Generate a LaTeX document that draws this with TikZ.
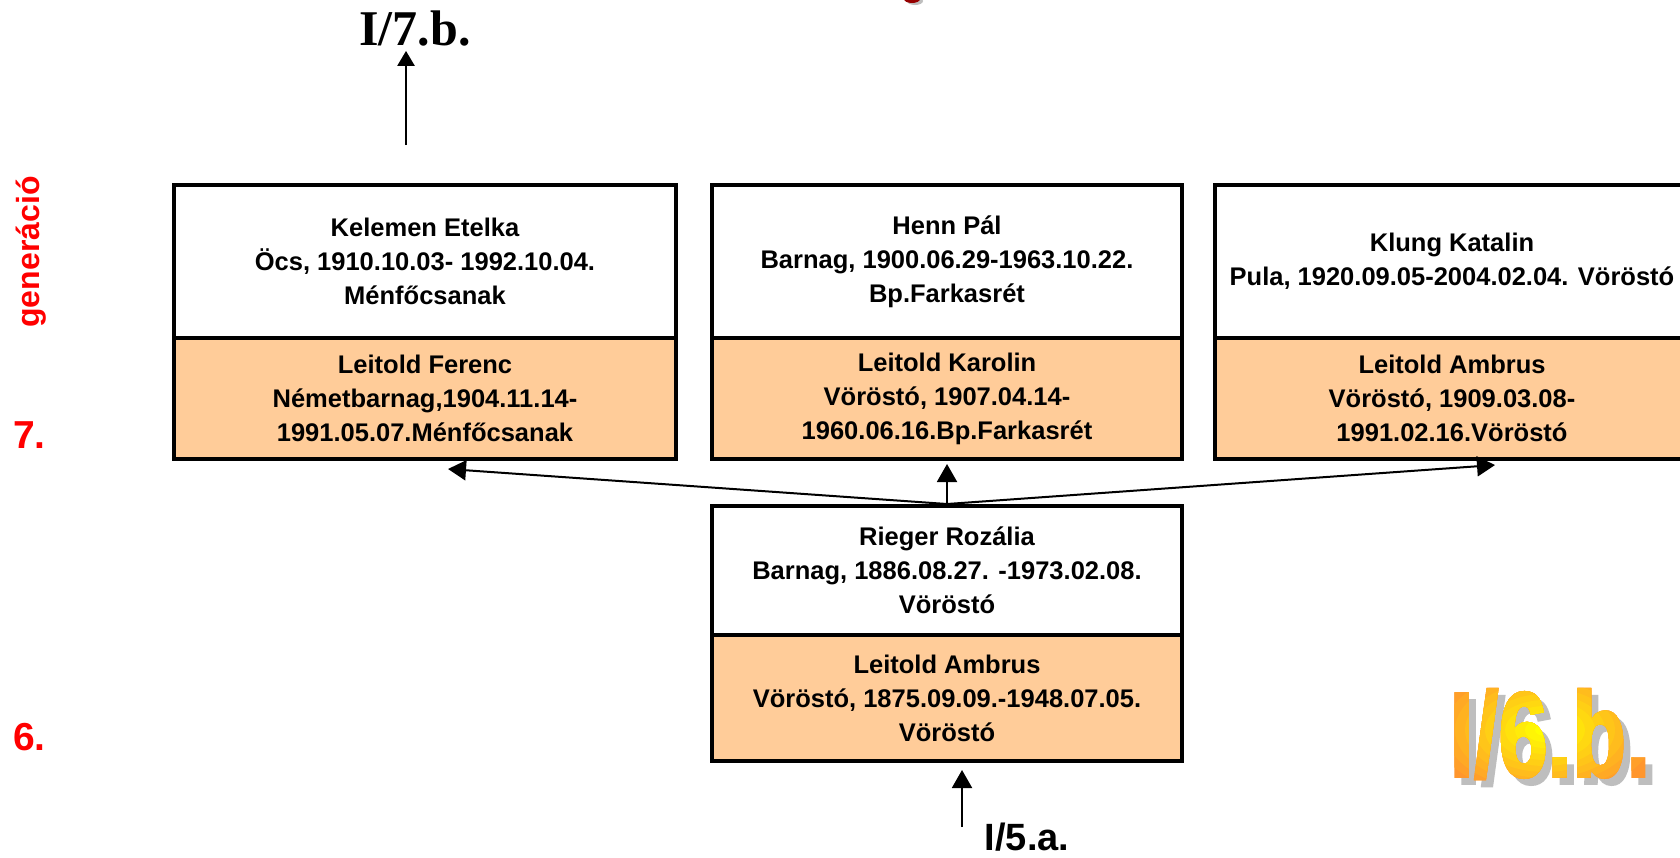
\documentclass[tikz,border=0pt]{standalone}
\usepackage{fontspec}
\setmainfont{Liberation Sans}
\newfontfamily\timesfont{Liberation Serif}
\newfontfamily\logofont[FakeBold=2]{Liberation Sans Bold}
\usetikzlibrary{arrows.meta,calc}
\definecolor{peach}{RGB}{255,204,153}
\definecolor{logoorange}{RGB}{255,150,45}
\definecolor{logoyellow}{RGB}{255,255,0}
\definecolor{shadowgrey}{RGB}{190,190,190}
\definecolor{darkred}{RGB}{150,0,0}
\tikzset{
  cell/.style={draw=black, line width=4pt, align=center, inner sep=0pt,
    font=\bfseries\fontsize{25.5}{34}\selectfont},
  upper/.style={cell, fill=white},
  lower/.style={cell, fill=peach},
  arr/.style={line width=2pt, -{Triangle[length=18pt,width=20pt]}},
  redlab/.style={text=red, inner sep=0pt, font=\bfseries\fontsize{39}{39}\selectfont},
  logotext/.style={inner sep=0pt, font=\logofont\fontsize{121}{121}\selectfont},
}
\newcommand{\logostr}{\scalebox{0.73}[1]{I/6.b.}}
\begin{document}
\begin{tikzpicture}[x=1pt,y=-1pt]
\fill[white] (0,0) rectangle (1680,857);
\useasboundingbox (0,0) rectangle (1680,857);

% cut-off fragment at top
\fill[shadowgrey] (915,1) ellipse [x radius=8pt, y radius=4pt];
\fill[darkred] (912,-1) ellipse [x radius=8pt, y radius=4pt];

% left labels
\node[text=red, inner sep=0pt, rotate=90, font=\bfseries\fontsize{32}{32}\selectfont] (gen) at (31,252) {generáció};
\node[redlab, anchor=base west] (g7) at (13,448) {7.};
\node[redlab, anchor=base west] (g6) at (13,750) {6.};

% top row boxes
\node[lower, minimum width=502pt, minimum height=121pt] (kL) at (425,398.5)
  {Leitold Ferenc\\Németbarnag,1904.11.14-\\1991.05.07.Ménfőcsanak};
\node[upper, minimum width=502pt, minimum height=153pt] (kU) at (425,261.5)
  {Kelemen Etelka\\Öcs, 1910.10.03- 1992.10.04.\\Ménfőcsanak};

\node[lower, minimum width=470pt, minimum height=121pt] (kaL) at (947,398.5)
  {Leitold Karolin\\Vöröstó, 1907.04.14-\\1960.06.16.Bp.Farkasrét};
\node[upper, minimum width=470pt, minimum height=153pt] (hU) at (947,261.5)
  {Henn Pál\\Barnag, 1900.06.29-1963.10.22.\\Bp.Farkasrét};

\node[lower, minimum width=474pt, minimum height=121pt] (laL) at (1452,398.5)
  {Leitold Ambrus\\Vöröstó, 1909.03.08-\\1991.02.16.Vöröstó};
\node[upper, minimum width=474pt, minimum height=153pt] (klU) at (1452,261.5)
  {Klung Katalin\\Pula, 1920.09.05-2004.02.04. Vöröstó};

% bottom box
\node[lower, minimum width=470pt, minimum height=126pt] (aL) at (947,698)
  {Leitold Ambrus\\Vöröstó, 1875.09.09.-1948.07.05.\\Vöröstó};
\node[upper, minimum width=470pt, minimum height=129pt] (rU) at (947,570.5)
  {Rieger Rozália\\Barnag, 1886.08.27. -1973.02.08.\\Vöröstó};

% connectors from the bottom box
\coordinate (tL) at (448,469);
\coordinate (tR) at (1495,465);
\draw[arr] (rU.north) -- (tL);
\draw[arr, shorten >=3pt] (rU.north) -- (kaL.south);
\draw[arr] (rU.north) -- (tR);

% I/7.b.
\node[anchor=base, inner sep=0pt, font=\timesfont\bfseries\fontsize{50}{50}\selectfont] (i7b) at (415,45) {I/7.b.};
\coordinate (c7) at (406,145);
\draw[line width=2.5pt, -{Triangle[length=15pt,width=17pt]}, shorten >=5pt] (c7) -- (i7b.south -| c7);

% I/5.a.
\node[anchor=base, inner sep=0pt, font=\bfseries\fontsize{38}{38}\selectfont] (i5a) at (1027,850) {I/5.a.};
\coordinate (c5) at (962,827);
\draw[arr, shorten >=7pt] (c5) -- (aL.south -| c5);

% I/6.b. logo (shadow + stepped radial gradient)
\node[logotext, text=shadowgrey] (logoshadow) at (1557,741) {\logostr};
\node[logotext, text=logoorange] (logo0) at (1550,734) {\logostr};
\foreach \i in {1,...,11} {
  \pgfmathsetmacro{\rx}{120-10*\i}
  \pgfmathtruncatemacro{\pc}{\i*9}
  \begin{scope}
    \clip (1545,730) ellipse [x radius=\rx pt, y radius=0.6*\rx pt];
    \node[logotext, text=logoyellow!\pc!logoorange] (logo\i) at (1550,734) {\logostr};
  \end{scope}
}
\end{tikzpicture}
\end{document}
